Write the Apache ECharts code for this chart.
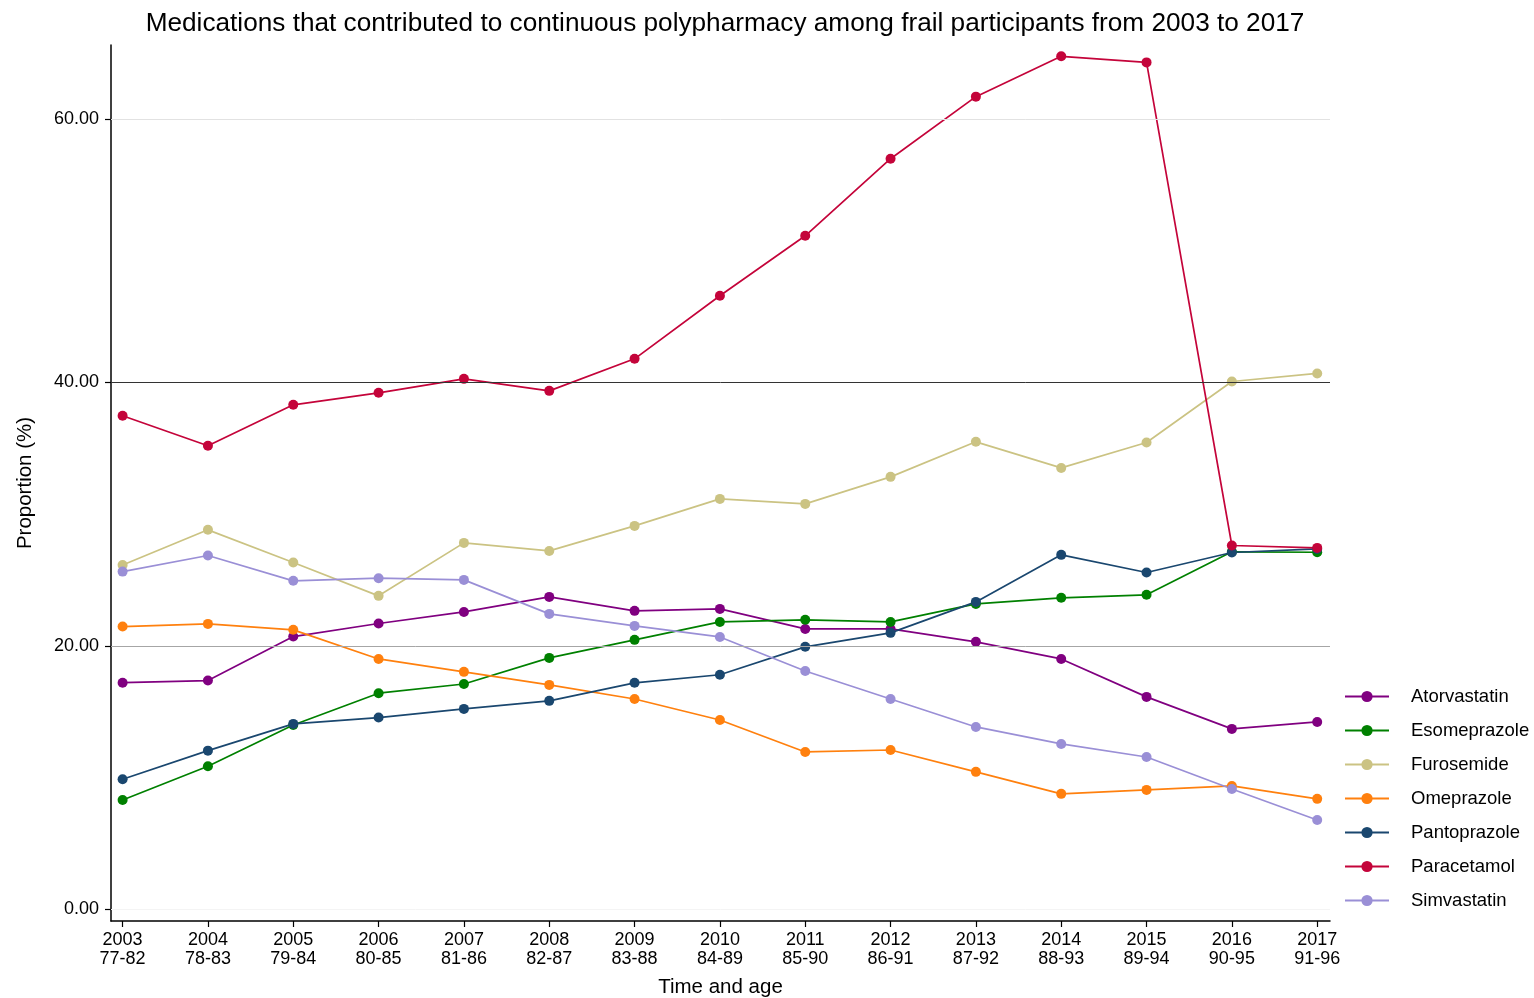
<!DOCTYPE html>
<html>
<head>
<meta charset="utf-8">
<title>Continuous polypharmacy among frail participants</title>
<script src="https://cdn.jsdelivr.net/npm/echarts@6/dist/echarts.min.js"></script>
<style>
  html, body { margin: 0; padding: 0; background: #ffffff; }
  #chart { width: 1534px; height: 998px; }
</style>
</head>
<body>
<div id="chart"></div>
<script>
// Survey waves and the age band of the cohort in each wave
const years = ['2003','2004','2005','2006','2007','2008','2009','2010','2011','2012','2013','2014','2015','2016','2017'];
const ageBands = ['77-82','78-83','79-84','80-85','81-86','82-87','83-88','84-89','85-90','86-91','87-92','88-93','89-94','90-95','91-96'];

// Proportion (%) of frail participants on each medication
const atorvastatin = [17.2, 17.36, 20.7, 21.69, 22.57, 23.71, 22.65, 22.8, 21.28, 21.28, 20.3, 19.0, 16.12, 13.69, 14.22];
const esomeprazole = [8.3, 10.86, 13.99, 16.4, 17.1, 19.08, 20.45, 21.81, 21.97, 21.81, 23.18, 23.64, 23.87, 27.13, 27.1];
const furosemide   = [26.13, 28.8, 26.32, 23.79, 27.81, 27.2, 29.1, 31.15, 30.77, 32.82, 35.48, 33.5, 35.43, 40.06, 40.67];
const omeprazole   = [21.46, 21.66, 21.21, 19.0, 18.02, 17.03, 15.96, 14.37, 11.94, 12.09, 10.43, 8.76, 9.06, 9.36, 8.38];
const pantoprazole = [9.87, 12.04, 14.07, 14.55, 15.21, 15.82, 17.19, 17.8, 19.92, 20.98, 23.33, 26.9, 25.56, 27.08, 27.35];
const paracetamol  = [37.46, 35.18, 38.29, 39.2, 40.26, 39.35, 41.78, 46.57, 51.12, 56.97, 61.68, 64.74, 64.28, 27.61, 27.43];
const simvastatin  = [25.63, 26.85, 24.93, 25.13, 25.0, 22.42, 21.51, 20.67, 18.09, 15.96, 13.84, 12.55, 11.56, 9.13, 6.78];

const yTicks = [0, 20, 40, 60];

const seriesDefs = [
  { name: 'Atorvastatin', values: atorvastatin, color: '#800080' },
  { name: 'Esomeprazole', values: esomeprazole, color: '#008000' },
  { name: 'Furosemide',   values: furosemide,   color: '#cbc383' },
  { name: 'Omeprazole',   values: omeprazole,   color: '#ff800e' },
  { name: 'Pantoprazole', values: pantoprazole, color: '#1a476f' },
  { name: 'Paracetamol',  values: paracetamol,  color: '#c4043a' },
  { name: 'Simvastatin',  values: simvastatin,  color: '#9a8fd6' }
];

// Horizontal reference lines, each with its own shade
const gridShades = ['#f4f4f4', '#a6a6a6', '#333333', '#e2e2e2'];

const fontFamily = '"Liberation Sans", Arial, sans-serif';
const chart = echarts.init(document.getElementById('chart'), null, { renderer: 'canvas' });

const lineSeries = seriesDefs.map(s => ({
  name: s.name,
  type: 'line',
  data: s.values.map((v, i) => [i, v]),
  symbol: 'circle',
  symbolSize: 10,
  lineStyle: { color: s.color, width: 1.7 },
  itemStyle: { color: s.color },
  emphasis: { disabled: true },
  animation: false,
  z: 3
}));

const referenceLines = {
  name: 'reference',
  type: 'line',
  data: [],
  silent: true,
  animation: false,
  z: 1,
  markLine: {
    silent: true,
    symbol: 'none',
    animation: false,
    label: { show: false },
    data: yTicks.map((t, i) => ({
      yAxis: t,
      lineStyle: { color: gridShades[i], width: 1, type: 'solid' }
    }))
  }
};

chart.setOption({
  backgroundColor: '#ffffff',
  textStyle: { fontFamily },
  title: {
    text: 'Medications that contributed to continuous polypharmacy among frail participants from 2003 to 2017',
    left: 720,
    textAlign: 'center',
    top: 6,
    textStyle: { fontSize: 26.2, fontWeight: 'normal', color: '#000', fontFamily }
  },
  grid: { left: 111, right: 204, top: 45, bottom: 77, containLabel: false, outerBoundsMode: 'none' },
  legend: {
    orient: 'vertical',
    left: 1339,
    top: 682,
    itemWidth: 44,
    itemHeight: 14,
    itemGap: 15,
    data: seriesDefs.map(s => s.name),
    textStyle: { fontSize: 18.5, color: '#000', fontFamily, padding: [0, 0, 0, 17] },
    selectedMode: false
  },
  xAxis: {
    type: 'value',
    min: -0.136,
    max: 14.15,
    name: 'Time and age',
    nameLocation: 'middle',
    nameGap: 56,
    nameTextStyle: { fontSize: 20.5, color: '#000', fontFamily },
    axisLine: { show: true, onZero: false, lineStyle: { color: '#000', width: 1.5 } },
    axisTick: { show: true, length: 6, customValues: years.map((_, i) => i), lineStyle: { color: '#000', width: 1.2 } },
    axisLabel: {
      customValues: years.map((_, i) => i),
      formatter: v => years[Math.round(v)] + '\n' + ageBands[Math.round(v)],
      fontSize: 18,
      lineHeight: 19,
      color: '#000',
      margin: 10,
      fontFamily
    },
    splitLine: { show: false }
  },
  yAxis: {
    type: 'value',
    min: -0.89,
    max: 65.6,
    name: 'Proportion (%)',
    nameLocation: 'middle',
    nameGap: 75,
    nameTextStyle: { fontSize: 20.5, color: '#000', fontFamily },
    axisLine: { show: true, onZero: false, lineStyle: { color: '#000', width: 1.5 } },
    axisTick: { show: true, length: 6, customValues: yTicks, lineStyle: { color: '#000', width: 1.2 } },
    axisLabel: {
      customValues: yTicks,
      formatter: v => v.toFixed(2),
      fontSize: 18,
      color: '#000',
      margin: 12,
      fontFamily
    },
    splitLine: { show: false }
  },
  series: [referenceLines].concat(lineSeries)
});
</script>
</body>
</html>
